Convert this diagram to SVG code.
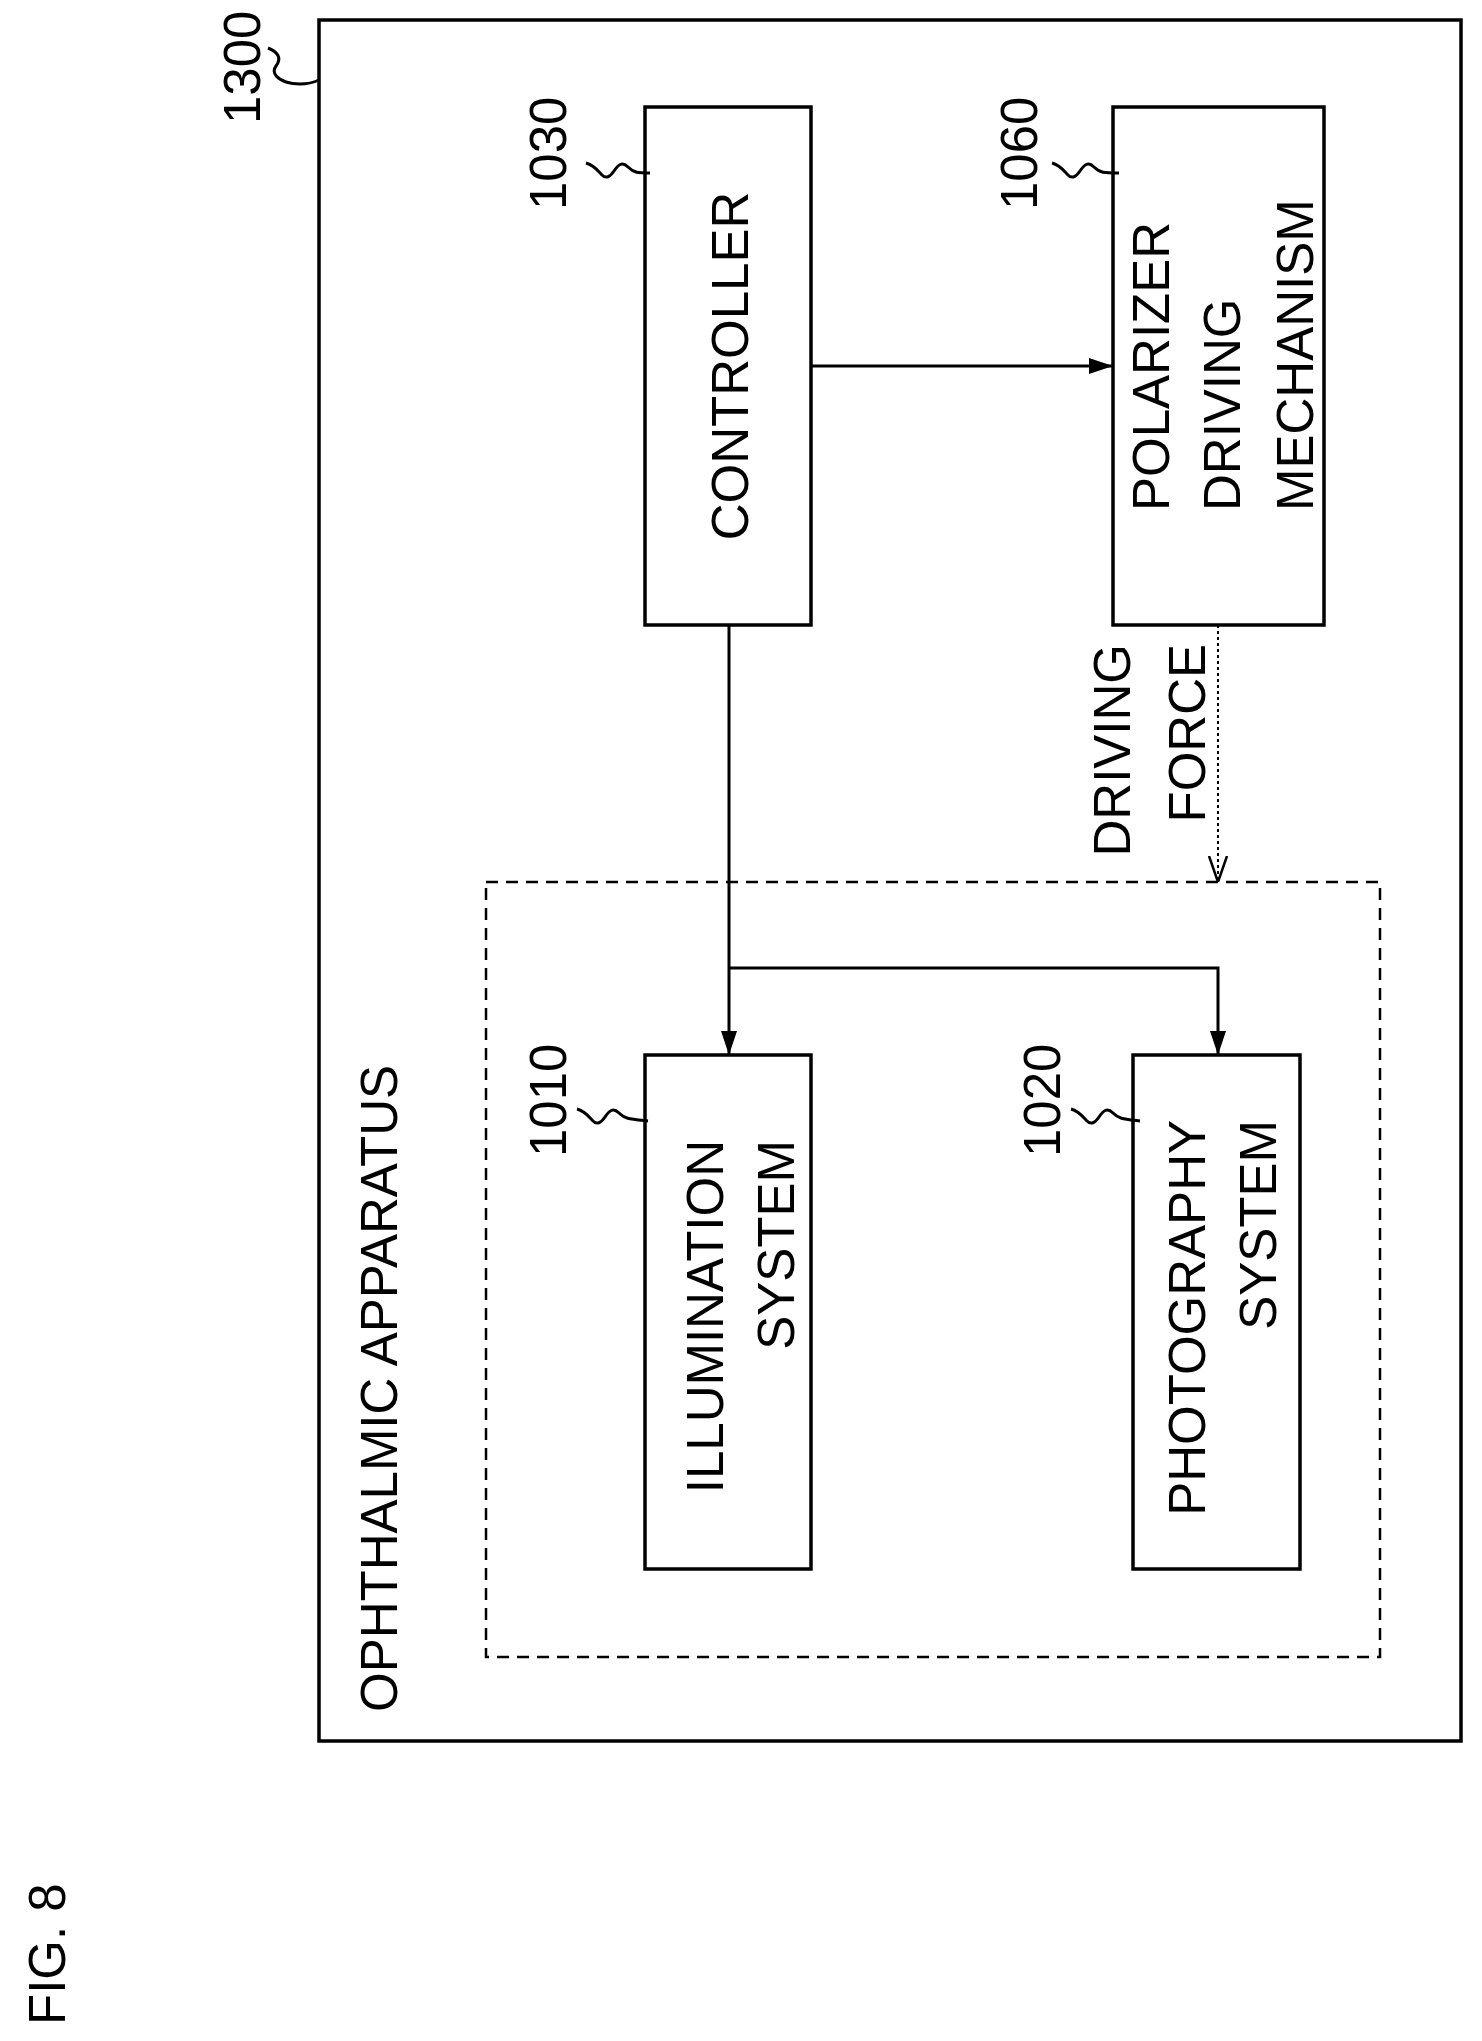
<svg xmlns="http://www.w3.org/2000/svg" width="1482" height="2041" viewBox="0 0 1482 2041">
<style>
text{font-family:"Liberation Sans",Arial,sans-serif;font-size:51px;fill:#000}
.b{fill:#fff;stroke:#000;stroke-width:3.5}
.l{fill:none;stroke:#000;stroke-width:3}
</style>
<defs>
<marker id="a" viewBox="0 0 24 16" refX="24" refY="8" markerWidth="24" markerHeight="16" markerUnits="userSpaceOnUse" orient="auto"><path d="M0 0L24 8L0 16z"/></marker>
<marker id="o" viewBox="0 0 26 20" refX="26" refY="10" markerWidth="26" markerHeight="20" markerUnits="userSpaceOnUse" orient="auto"><path d="M0 1L26 10L0 19" fill="none" stroke="#000" stroke-width="2.5"/></marker>
</defs>
<rect width="1482" height="2041" fill="#fff"/>
<text transform="translate(65,2025) rotate(-90)">FIG. 8</text>
<g id="apparatus">
<rect class="b" x="319" y="20" width="1142" height="1721"/>
<text transform="translate(397,1712) rotate(-90)">OPHTHALMIC APPARATUS</text>
<text transform="translate(260,124) rotate(-90)">1300</text>
<path class="l" d="M268 48c10 4 14 10 8 18s4 14 10 16s20 4 33 -2"/>
</g>
<g id="optics">
<rect x="486" y="882" width="894" height="775" fill="none" stroke="#000" stroke-width="2.5" stroke-dasharray="12 8"/>
</g>
<g id="controller">
<rect class="b" x="645" y="107" width="166" height="518"/>
<text transform="translate(748,366) rotate(-90)" text-anchor="middle">CONTROLLER</text>
<text transform="translate(566,210) rotate(-90)">1030</text>
<path class="l" d="M586 163c8 2 12 8 16 12s8 2 12 -4s8 -10 14 -4s10 6 22 6"/>
</g>
<g id="polarizer">
<rect class="b" x="1113" y="107" width="211" height="518"/>
<text transform="translate(1169,511) rotate(-90)">POLARIZER</text>
<text transform="translate(1240,511) rotate(-90)">DRIVING</text>
<text transform="translate(1313,511) rotate(-90)">MECHANISM</text>
<text transform="translate(1037,210) rotate(-90)">1060</text>
<path class="l" d="M1052 163c8 2 12 8 16 12s8 2 12 -4s8 -10 14 -4s10 6 25 6"/>
</g>
<g id="illumination">
<rect class="b" x="645" y="1055" width="166" height="514"/>
<text transform="translate(723,1140) rotate(-90)" text-anchor="end">ILLUMINATION</text>
<text transform="translate(794,1140) rotate(-90)" text-anchor="end">SYSTEM</text>
<text transform="translate(566,1157) rotate(-90)">1010</text>
<path class="l" d="M577 1109c8 2 12 8 16 12s8 2 12 -4s8 -10 14 -4s10 6 29 8"/>
</g>
<g id="photography">
<rect class="b" x="1133" y="1055" width="167" height="514"/>
<text transform="translate(1205,1120) rotate(-90)" text-anchor="end">PHOTOGRAPHY</text>
<text transform="translate(1276,1120) rotate(-90)" text-anchor="end">SYSTEM</text>
<text transform="translate(1060,1157) rotate(-90)">1020</text>
<path class="l" d="M1071 1109c8 2 12 8 16 12s8 2 12 -4s8 -10 14 -4s10 6 27 8"/>
</g>
<g id="connectors">
<path class="l" d="M811 366H1113" marker-end="url(#a)"/>
<path class="l" d="M729 625V1055" marker-end="url(#a)"/>
<path class="l" d="M729 968H1218V1055" marker-end="url(#a)"/>
<path d="M1218 625V882" fill="none" stroke="#000" stroke-width="2" stroke-dasharray="3 3" marker-end="url(#o)"/>
<text transform="translate(1130,644) rotate(-90)" text-anchor="end">DRIVING</text>
<text transform="translate(1205,644) rotate(-90)" text-anchor="end">FORCE</text>
</g>
</svg>
